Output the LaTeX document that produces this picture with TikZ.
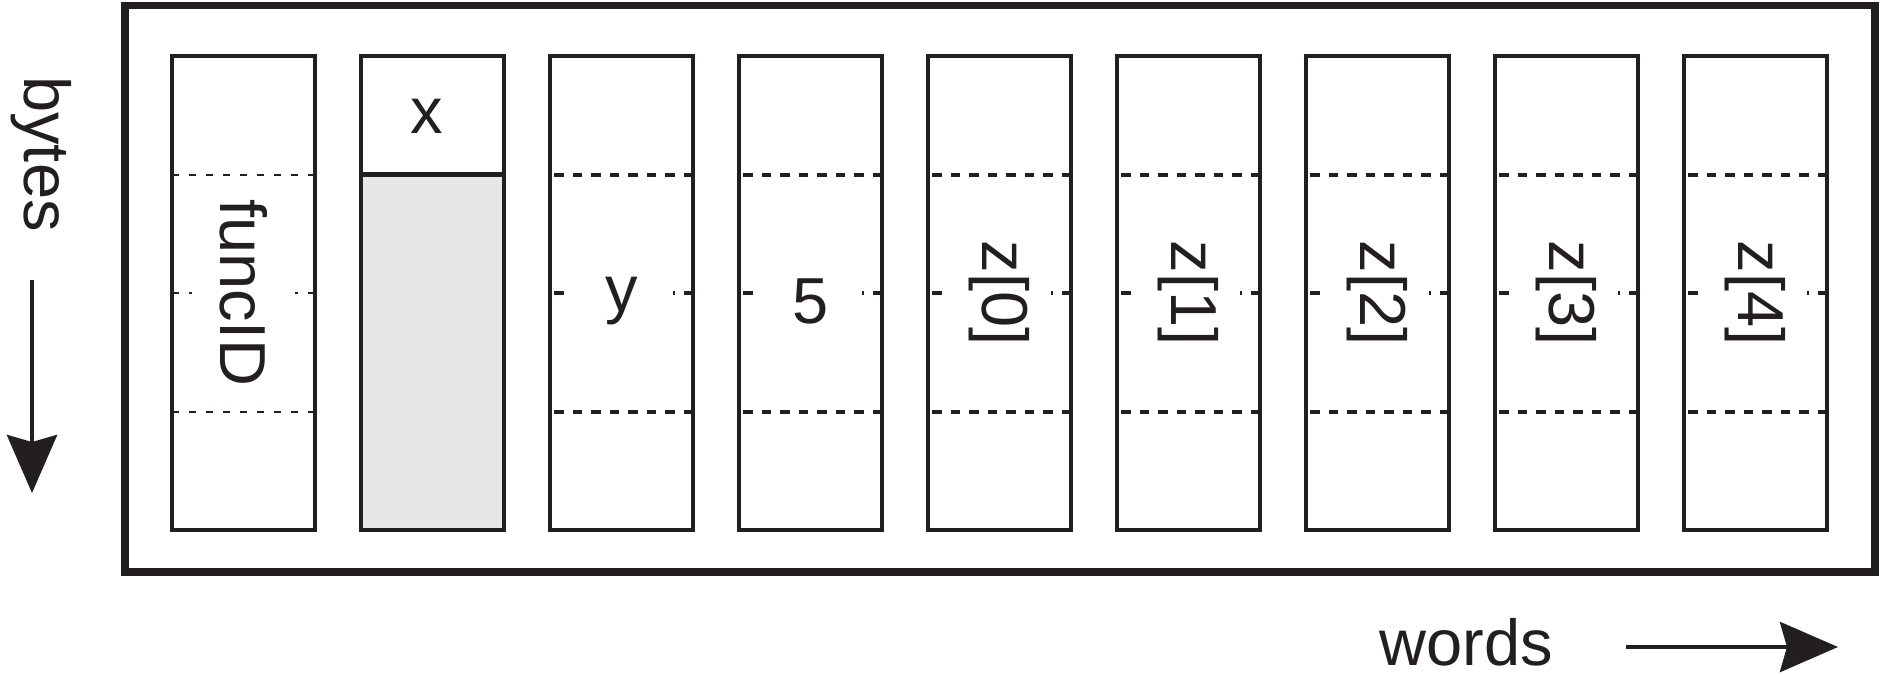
\documentclass[tikz,border=0pt]{standalone}
\usepackage{fontspec}
\setmainfont{Liberation Sans}
\usetikzlibrary{arrows.meta}
\definecolor{cellgrey}{RGB}{230,231,232}
\definecolor{ink}{RGB}{35,31,32}
\tikzset{
  colbox/.style={draw=ink, line width=2.25pt, minimum width=71.5pt, minimum height=237pt, inner sep=0pt, outer sep=0pt},
  dashline/.style={draw=ink, line width=2pt, dash pattern=on 4.75pt off 4.5pt},
  thindash/.style={draw=ink, line width=1pt, dash pattern=on 3.5pt off 5pt},
  lbl/.style={font=\fontsize{32.5pt}{39pt}\selectfont, text=ink, inner sep=0pt},
  vlbl/.style={lbl, rotate=-90, fill=white, minimum height=51.5pt, inner xsep=4pt},
  hlbl/.style={lbl, fill=white, minimum width=51.5pt},
  arr/.style={draw=ink, line width=2.25pt, -{Stealth[length=29pt,width=25pt,inset=3.5pt]}},
}
\begin{document}
\begin{tikzpicture}[x=0.5pt,y=-0.5pt]
\useasboundingbox (0,0) rectangle (1883,675);
% outer frame
\node[draw=ink, line width=3.75pt, minimum width=875pt, minimum height=283.25pt, inner sep=0pt] (frame) at (1000,288.75) {};
% columns
\foreach \i in {1,...,9} {
  \node[colbox] (c\i) at ({243.5+189*(\i-1)},293) {};
}
% grey part of column 2
\fill[cellgrey] ([yshift=59.25pt]c2.west) rectangle (c2.south east);
\draw[ink, line width=2.25pt] (c2.north west) rectangle (c2.south east);
\draw[ink, line width=2.25pt] ([yshift=59.25pt]c2.west) -- ([yshift=59.25pt]c2.east);
% dashed byte dividers
\foreach \s in {59.25pt,0pt,-59.25pt} {
  \draw[thindash] ([yshift=\s]c1.east) -- ([yshift=\s]c1.west);
}
\foreach \i in {3,...,9} {
  \foreach \s in {59.25pt,0pt,-59.25pt} {
    \draw[dashline] ([yshift=\s]c\i.east) -- ([yshift=\s]c\i.west);
  }
}
% labels
\node[vlbl] (l1) at (c1.center) {funcID};
\node[lbl] (l2) at (427,116) {x};
\node[hlbl] (l3) at (621.5,301) {y};
\node[hlbl] (l4) at (810.5,301) {5};
\node[vlbl] (l5) at (c5.center) {z[0]};
\node[vlbl] (l6) at (c6.center) {z[1]};
\node[vlbl] (l7) at (c7.center) {z[2]};
\node[vlbl] (l8) at (c8.center) {z[3]};
\node[vlbl] (l9) at (c9.center) {z[4]};
% axis labels and arrows
\node[lbl, rotate=-90] (bytes) at (41,154) {bytes};
\coordinate (b1) at (32,280);
\coordinate (b2) at (32,493);
\draw[arr] (b1) -- (b2);
\node[lbl] (words) at (1466,642.5) {words};
\coordinate (w1) at (1626,647);
\coordinate (w2) at (1838,647);
\draw[arr] (w1) -- (w2);
\end{tikzpicture}
\end{document}
